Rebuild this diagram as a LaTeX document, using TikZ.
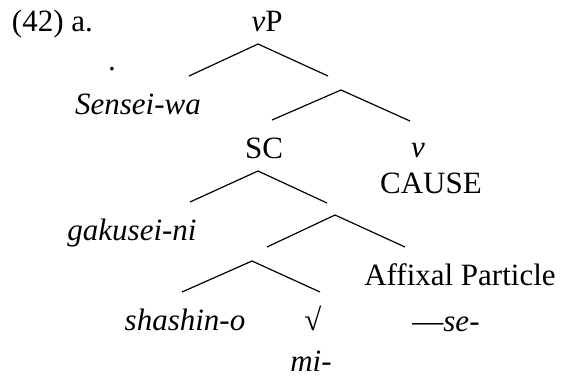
\documentclass[tikz,border=0pt]{standalone}
\usepackage{fontspec}
\setmainfont{Liberation Serif}
\begin{document}
\begin{tikzpicture}[x=1pt,y=-1pt,
  lbl/.style={anchor=base,inner sep=0pt,outer sep=0pt,font=\fontsize{31}{36}\selectfont},
  branch/.style={line width=1.2pt}]
\useasboundingbox (0,0) rectangle (563,378);
% texts
\node[lbl,anchor=base west] (ex) at (12,31) {(42) a.};
\node[lbl] (vP) at (267,31) {\textit{v}P};
\node[lbl] (dot) at (112,70) {.};
\node[lbl] (sensei) at (138,114) {\textit{Sensei-wa}};
\node[lbl] (SC) at (264,158) {SC};
\node[lbl] (v) at (418,157) {\textit{v}};
\node[lbl] (cause) at (431,193) {CAUSE};
\node[lbl] (gakusei) at (132,240) {\textit{gakusei-ni}};
\node[lbl] (affix) at (460,285) {Affixal Particle};
\node[lbl] (shashin) at (185,330) {\textit{shashin-o}};
\node[lbl] (root) at (313,330) {√};
\node[lbl] (se) at (446,331) {—\textit{se-}};
\node[lbl] (mi) at (311,371) {\textit{mi-}};
% branch points
\coordinate (a1) at (258,44);  \coordinate (a1l) at (189,76);  \coordinate (a1r) at (328,76);
\coordinate (a2) at (341,90);  \coordinate (a2l) at (272,120); \coordinate (a2r) at (410,121);
\coordinate (a3) at (258,171); \coordinate (a3l) at (190,202); \coordinate (a3r) at (327,203);
\coordinate (a4) at (335,215); \coordinate (a4l) at (267,247); \coordinate (a4r) at (405,247);
\coordinate (a5) at (252,261); \coordinate (a5l) at (182,292); \coordinate (a5r) at (320,292);
\draw[branch] (a1l) -- (a1) -- (a1r);
\draw[branch] (a2l) -- (a2) -- (a2r);
\draw[branch] (a3l) -- (a3) -- (a3r);
\draw[branch] (a4l) -- (a4) -- (a4r);
\draw[branch] (a5l) -- (a5) -- (a5r);
\end{tikzpicture}
\end{document}
